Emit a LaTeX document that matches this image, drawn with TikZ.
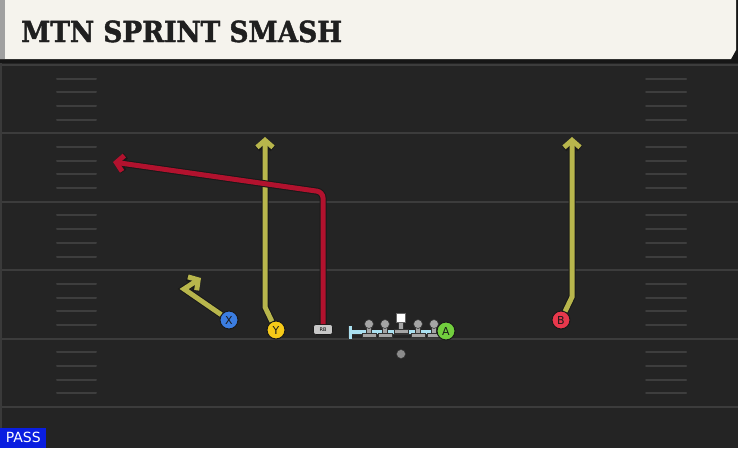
\documentclass[tikz,border=0pt]{standalone}
\usepackage{fontspec}
\setmainfont{DejaVu Sans}
\newfontfamily\titlefont[BoldFeatures={FakeBold=1.6}]{DejaVu Serif}
\usetikzlibrary{arrows.meta}
\definecolor{fieldbg}{RGB}{36,36,36}
\definecolor{fieldedge}{RGB}{58,58,58}
\definecolor{yardline}{RGB}{60,60,60}
\definecolor{hashmark}{RGB}{62,62,62}
\definecolor{headerbg}{RGB}{245,243,237}
\definecolor{headeredge}{RGB}{160,160,160}
\definecolor{headershadow}{RGB}{22,22,22}
\definecolor{routeolive}{RGB}{184,182,76}
\definecolor{routered}{RGB}{178,18,46}
\definecolor{blockcyan}{RGB}{170,224,240}
\definecolor{playerX}{RGB}{59,125,224}
\definecolor{playerY}{RGB}{246,202,24}
\definecolor{playerB}{RGB}{232,56,76}
\definecolor{playerA}{RGB}{114,206,62}
\definecolor{linemangrey}{RGB}{165,165,165}
\definecolor{passblue}{RGB}{10,30,224}
\newlength{\routeWidth}
\setlength{\routeWidth}{5pt}
\newlength{\playerSize}
\setlength{\playerSize}{18pt}
\tikzset{player/.style={shape=circle, draw=black!90, line width=1pt, minimum size=\playerSize, inner sep=0pt, text=black!90, font=\fontsize{11}{11}\selectfont},
  route/.style={line width=\routeWidth, -{Straight Barb[length=7pt,width=16pt]}, preaction={draw=black!90, line width=\routeWidth+2pt}},
  yardstripe/.style={draw=yardline, line width=2pt},
  hashstripe/.style={draw=hashmark, line width=2pt, line cap=round},
  lineman/.style={fill=linemangrey, draw=black!80, line width=0.6pt}}

\begin{document}
\begin{tikzpicture}[x=1pt, y=-1pt]
\useasboundingbox (0,0) rectangle (738,448);
\fill[fieldbg] (0,0) rectangle (738,448);
\fill[fieldedge] (0,0) rectangle (2,448);
\foreach \i in {0,...,5}
    \draw[yardstripe] (2,65+68.4*\i) -- (738,65+68.4*\i);
\foreach \i in {0,...,4}
    \foreach \j in {1,...,4} {
        \draw[hashstripe] (57,65+68.4*\i+13.68*\j) -- (96,65+68.4*\i+13.68*\j);
        \draw[hashstripe] (646,65+68.4*\i+13.68*\j) -- (686,65+68.4*\i+13.68*\j);
    }

\fill[headershadow] (0,0) rectangle (738,63);
\fill[headerbg] (0,0) -- (736,0) -- (736,50) -- (731,59) -- (0,59) -- cycle;
\fill[headeredge] (0,0) rectangle (5,59);
\node[anchor=base west, inner sep=0pt, xscale=0.91, text=black!88, font=\titlefont\bfseries\fontsize{29}{29}\selectfont] (title) at (21,42) {MTN SPRINT SMASH};

\coordinate (blockstart) at (350,332);
\coordinate (blockend) at (440,332);
\draw[blockcyan, line width=3.5pt, preaction={draw=black!80, line width=5pt}] (blockstart) -- (blockend);
\draw[blockcyan, line width=3pt, preaction={draw=black!80, line width=4.5pt}] (350,326) -- (350,338.5);
\foreach \x [count=\k] in {369,385,418,434} {
    \coordinate (ol\k) at (\x,324);
    \fill[lineman] ([xshift=-2.5pt]ol\k) rectangle ([xshift=2.5pt,yshift=-10pt]ol\k);
    \fill[lineman] ([xshift=-7pt,yshift=-9pt]ol\k) rectangle ([xshift=7pt,yshift=-13.5pt]ol\k);
    \fill[lineman] (ol\k) circle (4.5pt);
}
\coordinate (center) at (401,318);
\fill[lineman] ([xshift=-2.5pt]center) rectangle ([xshift=2.5pt,yshift=-12pt]center);
\fill[lineman] ([xshift=-7pt,yshift=-11pt]center) rectangle ([xshift=7pt,yshift=-15.5pt]center);
\fill[white, draw=black!60, line width=0.6pt] ([xshift=-4.5pt,yshift=4.5pt]center) rectangle ([xshift=4.5pt,yshift=-4.5pt]center);

\begin{scope}[every node/.style={player}]
    \node[fill=playerX] (X) at (229,320) {X};
    \node[fill=playerY] (Y) at (276,330) {Y};
    \node[fill=playerA] (A) at (446,331) {A};
    \node[fill=playerB] (B) at (561,320) {B};
\end{scope}
\node[draw=black!90, fill=black!22, rounded corners=2.5pt, minimum width=19pt, minimum height=10pt, inner sep=0pt, line width=0.6pt, font=\fontsize{5}{5}\selectfont] (RB) at (323,329.5) {RB};
\fill[black!45, draw=black!80, line width=0.5pt] (401,354) circle (4.5pt) coordinate (QB);

\coordinate (xbend) at (184,289);
\coordinate (xend) at (201,278);
\coordinate (ybend) at (265,307);
\coordinate (yend) at (265,137);
\coordinate (bbend) at (572,297);
\coordinate (bend) at (572,137);
\coordinate (rbbend) at (323,192);
\coordinate (rbend) at (113,162);
\draw[route, routeolive] (X) -- (xbend) -- (xend);
\draw[route, routeolive] (Y) -- (ybend) -- (yend);
\draw[route, routeolive] (B) -- (bbend) -- (bend);
\draw[route, routered, rounded corners=6pt] (RB) -- (rbbend) -- (rbend);

\node[anchor=south west, fill=passblue, text=white, minimum width=46pt, minimum height=20pt, inner sep=0pt, font=\fontsize{14}{14}\selectfont] (pass) at (0,448) {PASS};
\end{tikzpicture}
\end{document}
